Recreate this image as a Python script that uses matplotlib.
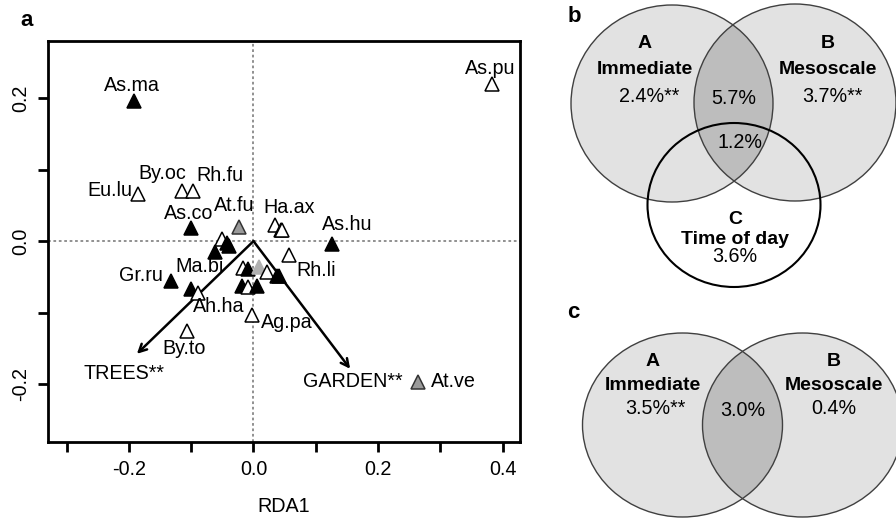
import matplotlib
matplotlib.use("Agg")
import matplotlib.pyplot as plt
from matplotlib.patches import Ellipse

plt.rcParams['font.family'] = ['Liberation Sans', 'DejaVu Sans']

# ---------------- data: RDA species scores ----------------
species = ["As.ma", "As.pu", "Eu.lu", "By.oc", "Rh.fu", "As.co", "At.fu", "Ha.ax", "", "",
           "As.hu", "Rh.li", "", "", "", "", "Gr.ru", "Ma.bi", "Ah.ha",
           "", "", "", "", "", "", "", "", "", "Ag.pa", "By.to", "At.ve"]
rda1 = [-0.1915, 0.3827, -0.1856, -0.1140, -0.0973, -0.1005, -0.0230, 0.0348, 0.0440, 0.0460,
        0.1268, 0.0578, -0.0507, -0.0427, -0.0401, -0.0615, -0.1321, -0.1005, -0.0892,
        -0.0170, -0.0090, 0.0091, 0.0225, 0.0376, 0.0413, -0.0186, -0.0096, 0.0064, -0.0026, -0.1069, 0.2648]
rda2 = [0.1964, 0.2197, 0.0661, 0.0707, 0.0707, 0.0182, 0.0196, 0.0228, 0.0162, 0.0150,
        -0.0038, -0.0191, 0.0032, -0.0024, -0.0061, -0.0154, -0.0550, -0.0666, -0.0722,
        -0.0377, -0.0387, -0.0363, -0.0433, -0.0480, -0.0492, -0.0620, -0.0642, -0.0620, -0.1029, -0.1249, -0.1961]
group = ["filled", "open", "open", "open", "open", "filled", "gray", "open", "open", "open",
         "filled", "open", "open", "filled", "filled", "filled", "filled", "filled", "open",
         "open", "filled", "lightgray", "open", "filled", "filled", "filled", "open", "filled", "open", "open", "gray"]

# environmental arrows
env_names = ["TREES**", "GARDEN**"]
env_x = [-0.1872, 0.1552]
env_y = [-0.1574, -0.1783]

# ticks
xticks = [-0.3, -0.2, -0.1, 0.0, 0.1, 0.2, 0.3, 0.4]
xticklabels = ["", "-0.2", "", "0.0", "", "0.2", "", "0.4"]
yticks = [-0.2, -0.1, 0.0, 0.1, 0.2]
yticklabels = ["-0.2", "", "0.0", "", "0.2"]

# Venn values
venn_b_letters = ["A", "B", "C"]
venn_b_names = ["Immediate", "Mesoscale", "Time of day"]
venn_b_unique = ["2.4%**", "3.7%**", "3.6%"]
venn_b_ab = "5.7%"
venn_b_abc = "1.2%"
venn_c_letters = ["A", "B"]
venn_c_names = ["Immediate", "Mesoscale"]
venn_c_unique = ["3.5%**", "0.4%"]
venn_c_ab = "3.0%"

# ---------------- layout / styles ----------------
label_offsets = {  # pixel offsets (dx, dy), alignment
    "As.ma": (-2, 15, "center"), "As.pu": (-2, 15, "center"), "Eu.lu": (-6, 3, "right"),
    "By.oc": (-20, 17, "center"), "Rh.fu": (27, 15, "center"), "As.co": (-2, 15, "center"),
    "At.fu": (-5, 22, "center"), "Ha.ax": (14, 17, "center"), "As.hu": (15, 19, "center"),
    "Rh.li": (27, -16, "center"), "Gr.ru": (-8, 5, "right"), "Ma.bi": (9, 22, "center"),
    "Ah.ha": (21, -14, "center"), "Ag.pa": (9, -8, "left"), "By.to": (-3, -18, "center"),
    "At.ve": (13, 0, "left"),
}
env_offsets = [(-13, -20), (3, -13)]
styles = {
    "filled": dict(mfc="black", mec="black"),
    "open": dict(mfc="white", mec="black"),
    "gray": dict(mfc="#9a9a9a", mec="#333333"),
    "lightgray": dict(mfc="#b0b0b0", mec="#b0b0b0"),
}

fig = plt.figure(figsize=(8.96, 5.21), dpi=100)
W, H = 896, 521
ax = fig.add_axes([48.3 / W, 1 - 442.3 / H, (520 - 48.3) / W, (442.3 - 40.7) / H])
ax.set_xlim(-0.3295, 0.428)
ax.set_ylim(-0.281, 0.280)

ax.axhline(0, color="#888888", lw=1.3, ls=(0, (1.5, 1.5)), zorder=1)
ax.axvline(0, color="#888888", lw=1.3, ls=(0, (1.5, 1.5)), zorder=1)

for nm, x, y, g in zip(species, rda1, rda2, group):
    ax.plot([x], [y], marker="^", ms=9.5, mew=1.1, ls="none", zorder=3, **styles[g])
    if nm:
        dx, dy, ha = label_offsets[nm]
        ax.annotate(nm, (x, y), xytext=(dx, dy), textcoords="offset pixels",
                    ha=ha, va="center", fontsize=14.2, zorder=4)

for nm, x, y, (dx, dy) in zip(env_names, env_x, env_y, env_offsets):
    ax.annotate("", xy=(x, y), xytext=(0, 0),
                arrowprops=dict(arrowstyle="->,head_length=0.55,head_width=0.28", color="black",
                                lw=1.8, shrinkA=0, shrinkB=0), zorder=2)
    ax.annotate(nm, (x, y), xytext=(dx, dy), textcoords="offset pixels",
                ha="center", va="center", fontsize=14.2)

ax.set_xticks(xticks)
ax.set_xticklabels(xticklabels, fontsize=14.2)
ax.set_yticks(yticks)
ax.set_yticklabels(yticklabels, fontsize=14.2, rotation=90, va="center")
ax.tick_params(axis="both", length=7, width=2, direction="out", pad=6)
for sp in ax.spines.values():
    sp.set_linewidth(2)
ax.set_xlabel("RDA1", fontsize=14.2, labelpad=13)
fig.text(20 / W, 1 - 20 / H, "a", fontsize=16, fontweight="bold", ha="left", va="center")

# ---------------- Venn diagrams ----------------
vax = fig.add_axes([560 / W, 0, 336 / W, 1])
vax.set_xlim(560, 896)
vax.set_ylim(521, 0)
vax.axis("off")

light = "#e2e2e2"
dark = "#bdbdbd"
edge = "#404040"

def venn_pair(ca, cb, rx, ry, cc=None):
    if cc is not None:
        vax.add_patch(Ellipse(cc[0], 2 * cc[1], 2 * cc[2], fc="white", ec="none", zorder=1))
    A = Ellipse(ca, 2 * rx, 2 * ry, fc=light, ec="none", zorder=2)
    B = Ellipse(cb, 2 * rx, 2 * ry, fc=light, ec="none", zorder=2)
    vax.add_patch(A)
    vax.add_patch(B)
    lens = Ellipse(cb, 2 * rx, 2 * ry, fc=dark, ec="none", zorder=3)
    vax.add_patch(lens)
    lens.set_clip_path(A)
    for cen in (ca, cb):
        vax.add_patch(Ellipse(cen, 2 * rx, 2 * ry, fc="none", ec=edge, lw=1.0, zorder=5))
    if cc is not None:
        vax.add_patch(Ellipse(cc[0], 2 * cc[1], 2 * cc[2], fc="none", ec="black", lw=1.5, zorder=6))

bold = dict(ha="center", va="center", fontsize=14, fontweight="bold", zorder=7)
norm = dict(ha="center", va="center", fontsize=14.2, zorder=7)

# panel b
venn_pair((672, 103.5), (795, 102.5), 101, 98.5, cc=((734, 205), 86.5, 82))
for (x, y1, y2, y3), let, nm, val in zip([(645, 43, 70, 97), (828, 43, 70, 97), (735, 220, 239, 257)],
                                         venn_b_letters, venn_b_names, venn_b_unique):
    vax.text(x, y1, let, **bold)
    vax.text(x, y2, nm, **bold)
    vax.text(x + (4 if val.endswith("**") else 0), y3, val, **norm)
vax.text(734, 98, venn_b_ab, **norm)
vax.text(740, 143, venn_b_abc, **norm)
vax.text(568, 16, "b", ha="left", va="center", fontsize=16, fontweight="bold")

# panel c
venn_pair((682.5, 425), (802.5, 425), 100, 92)
for (x, y1, y2, y3), let, nm, val in zip([(653, 362, 386, 409), (834, 362, 386, 409)],
                                         venn_c_letters, venn_c_names, venn_c_unique):
    vax.text(x, y1, let, **bold)
    vax.text(x, y2, nm, **bold)
    vax.text(x + (2 if val.endswith("**") else 0), y3, val, **norm)
vax.text(743, 410, venn_c_ab, **norm)
vax.text(567, 312, "c", ha="left", va="center", fontsize=16, fontweight="bold")

fig.savefig("out.png", dpi=100)
